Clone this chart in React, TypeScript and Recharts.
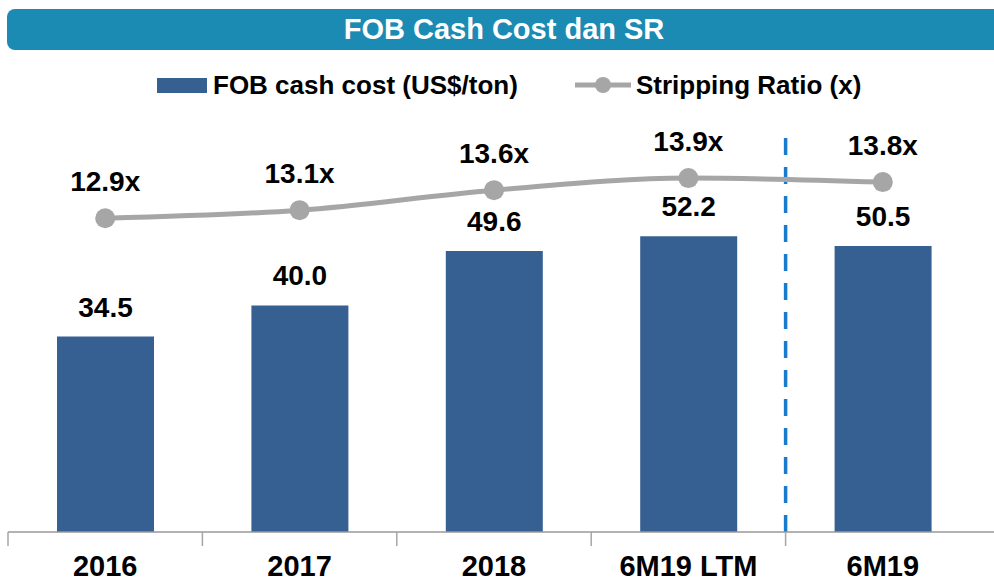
import React from 'react';
import { ComposedChart, Bar, Line, XAxis, YAxis, ReferenceLine, LabelList } from 'recharts';

const periods = ['2016', '2017', '2018', '6M19 LTM', '6M19'];
const fobCashCost = [34.5, 40.0, 49.6, 52.2, 50.5];
const strippingRatio = [12.9, 13.1, 13.6, 13.9, 13.8];

const data = periods.map((p, i) => ({ period: p, fob: fobCashCost[i], sr: strippingRatio[i] }));

const FONT = '"Liberation Sans", Arial, sans-serif';
const BAR_COLOR = '#376092';
const LINE_COLOR = '#a6a6a6';
const W = 994;
const H = 581;
const LEFT = 8;
const PAD_RIGHT = 14;
const BAND = (W - LEFT - PAD_RIGHT) / periods.length;

const AxisTick = (props: any) => {
  const { x, y, payload } = props;
  return (
    <g>
      <line x1={x - BAND / 2} x2={x - BAND / 2} y1={y} y2={y + 14} stroke="#a6a6a6" strokeWidth={1.5} />
      <text x={x} y={y + 44} textAnchor="middle" fontFamily={FONT} fontWeight="bold" fontSize={29} fill="#000">
        {payload.value}
      </text>
    </g>
  );
};

const barLabel = (props: any) => {
  const { x, y, width, value } = props;
  return (
    <text x={x + width / 2} y={y - 20} textAnchor="middle" fontFamily={FONT} fontWeight="bold" fontSize={28} fill="#000">
      {Number(value).toFixed(1)}
    </text>
  );
};

const lineLabel = (props: any) => {
  const { x, y, value } = props;
  return (
    <text x={x} y={y - 27} textAnchor="middle" fontFamily={FONT} fontWeight="bold" fontSize={28} fill="#000">
      {Number(value).toFixed(1)}x
    </text>
  );
};

export default function App() {
  return (
    <div style={{ position: 'absolute', left: 0, top: 0, width: W, height: H, overflow: 'hidden', background: '#fff', fontFamily: FONT }}>
      <div
        style={{
          position: 'absolute', left: 7, top: 9, width: W, height: 41, background: '#1b8bb4',
          borderRadius: 8, color: '#fff', fontWeight: 'bold', fontSize: 29, lineHeight: '41px', textAlign: 'center',
        }}
      >
        FOB Cash Cost dan SR
      </div>

      <div style={{ position: 'absolute', left: 157, top: 78, width: 50, height: 15, background: BAR_COLOR }} />
      <div style={{ position: 'absolute', left: 213, top: 70, fontWeight: 'bold', fontSize: 26, lineHeight: '30px', color: '#000', whiteSpace: 'nowrap' }}>
        FOB cash cost (US$/ton)
      </div>
      <svg style={{ position: 'absolute', left: 570, top: 70 }} width={66} height={30}>
        <line x1={5} x2={61} y1={15} y2={15} stroke={LINE_COLOR} strokeWidth={5} />
        <circle cx={33} cy={15} r={8} fill={LINE_COLOR} />
      </svg>
      <div style={{ position: 'absolute', left: 636, top: 70, fontWeight: 'bold', fontSize: 26, lineHeight: '30px', color: '#000', whiteSpace: 'nowrap' }}>
        Stripping Ratio (x)
      </div>

      <div style={{ position: 'absolute', left: 0, top: 0 }}>
        <ComposedChart width={W} height={H} data={data} margin={{ top: 133, right: 0, bottom: 0, left: LEFT }}>
          <XAxis
            dataKey="period"
            padding={{ left: 0, right: PAD_RIGHT }}
            axisLine={{ stroke: '#999', strokeWidth: 1.5 }}
            tickLine={false}
            tickSize={0}
            tickMargin={0}
            height={49}
            interval={0}
            tick={<AxisTick />}
          />
          <YAxis yAxisId="bar" hide domain={[0, 70.44]} />
          <YAxis yAxisId="line" hide domain={[5.075, 15.025]} orientation="right" />
          <ReferenceLine
            yAxisId="bar"
            x="6M19"
            position="start"
            stroke="#1a7acb"
            strokeWidth={3.5}
            strokeDasharray="17 12"
          />
          <Bar yAxisId="bar" dataKey="fob" fill={BAR_COLOR} barSize={97} isAnimationActive={false}>
            <LabelList dataKey="fob" content={barLabel} />
          </Bar>
          <Line
            yAxisId="line"
            type="monotone"
            dataKey="sr"
            stroke={LINE_COLOR}
            strokeWidth={5}
            dot={{ r: 10, fill: LINE_COLOR, stroke: 'none' }}
            isAnimationActive={false}
          >
            <LabelList dataKey="sr" content={lineLabel} />
          </Line>
        </ComposedChart>
      </div>
    </div>
  );
}
